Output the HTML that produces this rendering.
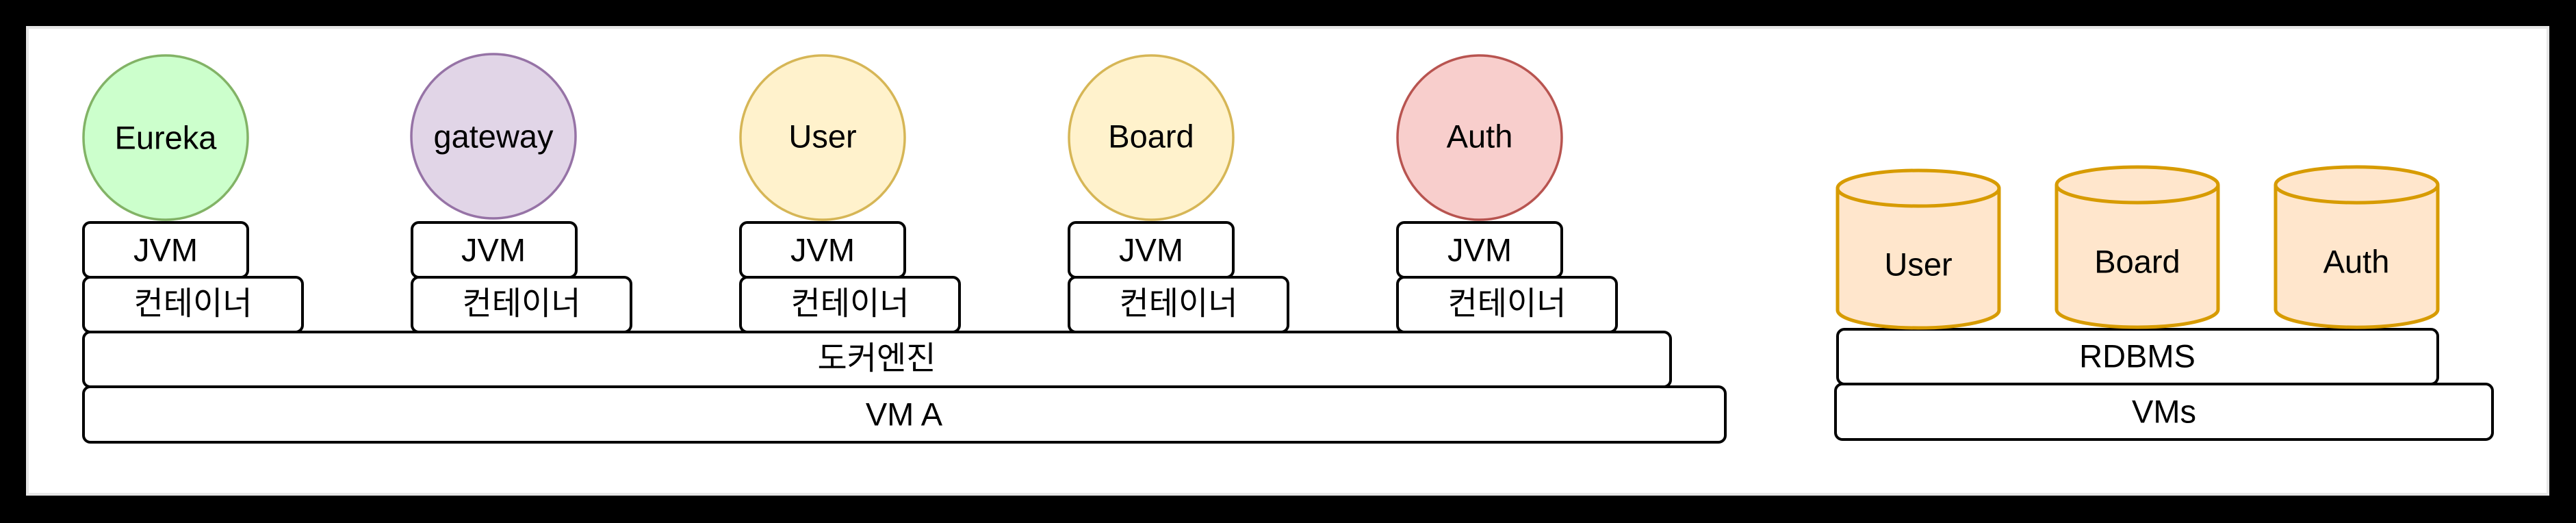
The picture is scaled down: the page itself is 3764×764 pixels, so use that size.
<!DOCTYPE html>
<html><head><meta charset="utf-8"><style>
html,body{margin:0;padding:0;background:#000;}
svg{display:block;}
text{font-family:"Liberation Sans","Noto Sans CJK KR",sans-serif;font-size:47px;fill:#000;text-anchor:middle;dominant-baseline:central;}
</style></head><body>
<svg width="3764" height="764" viewBox="0 0 3764 764" xmlns="http://www.w3.org/2000/svg">
<rect x="0" y="0" width="3764" height="764" fill="#000"/>
<rect x="40" y="40" width="3683" height="682" fill="#fff" stroke="#e6e6e6" stroke-width="4"/>
<g stroke="#000" stroke-width="4" fill="#fff">
<rect x="122" y="565" width="2399" height="81" rx="10"/>
<rect x="122" y="485" width="2319" height="80" rx="10"/>
<rect x="122" y="405" width="320" height="80" rx="10"/>
<rect x="122" y="325" width="240" height="80" rx="10"/>
<rect x="602" y="405" width="320" height="80" rx="10"/>
<rect x="602" y="325" width="240" height="80" rx="10"/>
<rect x="1082" y="405" width="320" height="80" rx="10"/>
<rect x="1082" y="325" width="240" height="80" rx="10"/>
<rect x="1562" y="405" width="320" height="80" rx="10"/>
<rect x="1562" y="325" width="240" height="80" rx="10"/>
<rect x="2042" y="405" width="320" height="80" rx="10"/>
<rect x="2042" y="325" width="240" height="80" rx="10"/>
<rect x="2682" y="561" width="960" height="81" rx="10"/>
<rect x="2685" y="481" width="877" height="80" rx="10"/>
</g>
<g stroke-width="3.5">
<circle cx="242" cy="201" r="120" fill="#ccffcc" stroke="#82b366"/>
<circle cx="721" cy="199" r="120" fill="#e1d5e7" stroke="#9673a6"/>
<circle cx="1202" cy="201" r="120" fill="#fff2cc" stroke="#d6b656"/>
<circle cx="1682" cy="201" r="120" fill="#fff2cc" stroke="#d6b656"/>
<circle cx="2162" cy="201" r="120" fill="#f8cecc" stroke="#b85450"/>
</g>
<g fill="#ffe6cc" stroke="#d79b00" stroke-width="5">
<path d="M2685 275 A118 26 0 0 1 2921 275 V453 A118 26 0 0 1 2685 453 Z"/>
<path d="M2685 275 A118 26 0 0 0 2921 275" fill="none"/>
<path d="M3005 270 A118 26 0 0 1 3241 270 V452 A118 26 0 0 1 3005 452 Z"/>
<path d="M3005 270 A118 26 0 0 0 3241 270" fill="none"/>
<path d="M3325 270 A118 26 0 0 1 3562 270 V452 A118 26 0 0 1 3325 452 Z"/>
<path d="M3325 270 A118 26 0 0 0 3562 270" fill="none"/>
</g>
<text x="242" y="201">Eureka</text>
<text x="721" y="199">gateway</text>
<text x="1202" y="199">User</text>
<text x="1682" y="199">Board</text>
<text x="2162" y="199">Auth</text>
<text x="242" y="365">JVM</text>
<text x="721" y="365">JVM</text>
<text x="1202" y="365">JVM</text>
<text x="1682" y="365">JVM</text>
<text x="2162" y="365">JVM</text>
<text x="282" y="443">컨테이너</text>
<text x="762" y="443">컨테이너</text>
<text x="1242" y="443">컨테이너</text>
<text x="1722" y="443">컨테이너</text>
<text x="2202" y="443">컨테이너</text>
<text x="1281" y="523">도커엔진</text>
<text x="1321" y="605">VM A</text>
<text x="2803" y="386">User</text>
<text x="3123" y="382">Board</text>
<text x="3443" y="382">Auth</text>
<text x="3123" y="520">RDBMS</text>
<text x="3162" y="601">VMs</text>
</svg>
</body></html>
